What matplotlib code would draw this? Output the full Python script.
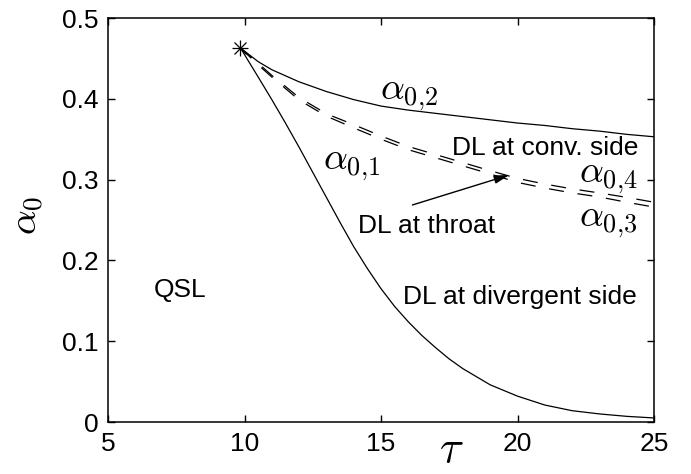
import matplotlib
matplotlib.use("Agg")
import matplotlib.pyplot as plt

plt.rcParams['font.family'] = ['Liberation Sans', 'DejaVu Sans']
plt.rcParams['mathtext.fontset'] = 'cm'

# Branch point
tau_c = 9.85
alpha_c = 0.463

# alpha_{0,1}: lower solid branch
tau_01 = [9.85, 10.5, 11, 11.5, 12, 12.5, 13, 13.5, 14, 14.5, 15, 15.5, 16, 16.5, 17, 17.5,
          18, 19, 20, 21, 22, 23, 24, 25]
alpha_01 = [0.463, 0.427, 0.399, 0.370, 0.340, 0.309, 0.278, 0.247, 0.217, 0.190, 0.165,
            0.143, 0.124, 0.107, 0.092, 0.078, 0.066, 0.046, 0.032, 0.021, 0.014, 0.010,
            0.007, 0.005]

# alpha_{0,2}: upper solid branch
tau_02 = [9.85, 10.5, 11, 12, 13, 14, 15, 16, 17, 18, 19, 20, 21, 22, 23, 24, 25]
alpha_02 = [0.463, 0.446, 0.436, 0.421, 0.409, 0.399, 0.391, 0.386, 0.382, 0.378, 0.374,
            0.370, 0.367, 0.363, 0.360, 0.356, 0.353]

# alpha_{0,3} and alpha_{0,4}: dashed branches
tau_dash = [9.85, 10.5, 11, 12, 13, 14, 15, 16, 17, 18, 19, 20, 21, 22, 23, 24, 25]
alpha_04 = [0.463, 0.444, 0.429, 0.4015, 0.3815, 0.368, 0.354, 0.341, 0.331, 0.321, 0.311,
            0.3015, 0.2945, 0.2885, 0.2835, 0.278, 0.272]
alpha_03 = [0.463, 0.442, 0.427, 0.3985, 0.3785, 0.364, 0.350, 0.337, 0.327, 0.317, 0.307,
            0.2965, 0.2895, 0.2835, 0.2785, 0.272, 0.266]

xticks = [5, 10, 15, 20, 25]
yticks = [0, 0.1, 0.2, 0.3, 0.4, 0.5]
yticklabels = ['0', '0.1', '0.2', '0.3', '0.4', '0.5']

fig = plt.figure(figsize=(6.91, 4.74), dpi=100)
ax = fig.add_axes([108 / 691, 52 / 474, (654 - 108) / 691, (422 - 18) / 474])

lw = 0.9
ax.plot(tau_01, alpha_01, color='black', lw=lw)
ax.plot(tau_02, alpha_02, color='black', lw=lw)
ax.plot(tau_dash, alpha_04, color='black', lw=lw, dashes=(12, 11))
ax.plot(tau_dash, alpha_03, color='black', lw=lw, dashes=(12, 11))

# asterisk marker at the branch point
ax.plot([tau_c], [alpha_c], marker='+', ms=12, mew=0.9, color='black', clip_on=False)
ax.plot([tau_c], [alpha_c], marker='x', ms=8.5, mew=0.9, color='black', clip_on=False)

ax.set_xlim(5, 25)
ax.set_ylim(0, 0.5)
ax.set_xticks(xticks)
ax.set_xticklabels([str(t) for t in xticks])
ax.set_yticks(yticks)
ax.set_yticklabels(yticklabels)
ax.tick_params(direction='in', top=True, right=True, length=5, width=1.0,
               labelsize=19, pad=7)
for s in ax.spines.values():
    s.set_linewidth(1.1)

fs_lab = 27
ax.text(16.04, 0.405, r'$\alpha_{0{,}2}$', fontsize=fs_lab, ha='center', va='center')
ax.text(13.92, 0.318, r'$\alpha_{0{,}1}$', fontsize=fs_lab, ha='center', va='center')
ax.text(23.32, 0.302, r'$\alpha_{0{,}4}$', fontsize=fs_lab, ha='center', va='center')
ax.text(23.32, 0.2475, r'$\alpha_{0{,}3}$', fontsize=fs_lab, ha='center', va='center')

fs_txt = 19
ax.text(7.63, 0.163, 'QSL', fontsize=fs_txt, ha='center', va='center')
ax.text(21.0, 0.339, 'DL at conv. side', fontsize=fs_txt, ha='center', va='center')
ax.text(16.66, 0.243, 'DL at throat', fontsize=fs_txt, ha='center', va='center')
ax.text(20.1, 0.155, 'DL at divergent side', fontsize=fs_txt, ha='center', va='center')

ax.annotate('', xy=(19.70, 0.3057), xytext=(16.15, 0.2686),
            arrowprops=dict(arrowstyle='-|>,head_length=0.9,head_width=0.25',
                            color='black', lw=1.0, shrinkA=0, shrinkB=0))

fig.text(451 / 691, 3 / 474, r'$\tau$', fontsize=32, ha='center', va='bottom')
fig.text(28 / 691, 1 - 215 / 474, r'$\alpha_0$', fontsize=28, ha='center', va='center',
         rotation=90)

fig.savefig('out.png', dpi=100)
